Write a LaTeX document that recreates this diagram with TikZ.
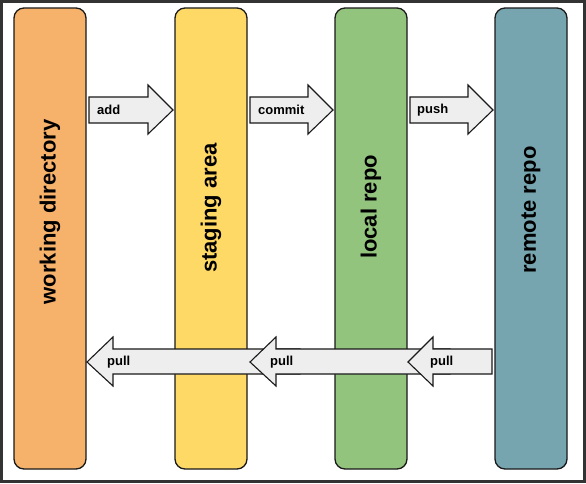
\documentclass[tikz,border=0pt]{standalone}
\usepackage{fontspec}
\setmainfont{Liberation Sans}
\begin{document}
\begin{tikzpicture}[x=1pt,y=-1pt,
  column/.style={draw=black!90,line width=1.3pt,rounded corners=10pt,minimum width=72pt,minimum height=461pt,inner sep=0pt},
  coltext/.style={rotate=90,font=\bfseries\fontsize{22}{26}\selectfont,text=black},
  blockarrow/.style={draw=black!90,line width=1.1pt,fill=arrowgray,line join=miter},
  arrowlabel/.style={anchor=west,font=\bfseries\fontsize{13}{15}\selectfont,inner sep=0pt}]
\definecolor{wdorange}{RGB}{246,178,107}
\definecolor{sayellow}{RGB}{255,217,102}
\definecolor{lrgreen}{RGB}{147,196,125}
\definecolor{rrblue}{RGB}{118,165,175}
\definecolor{arrowgray}{RGB}{238,238,238}
\definecolor{framegray}{RGB}{51,51,51}
\useasboundingbox (0,0) rectangle (586,483);
\fill[white] (0,0) rectangle (586,483);
\draw[framegray,line width=3pt] (1.5,1.5) rectangle (584.5,481.5);
% columns
\node[column,fill=wdorange] (wd) at (50,238.5) {};
\node[column,fill=sayellow] (sa) at (211,238.5) {};
\node[column,fill=lrgreen] (lr) at (371,238.5) {};
\node[column,fill=rrblue] (rr) at (531,238.5) {};
\node[coltext] (wdt) at (50,212) {working directory};
\node[coltext] (sat) at (211,208) {staging area};
\node[coltext] (lrt) at (371,207) {local repo};
\node[coltext] (rrt) at (531,210) {remote repo};
% top arrows
\draw[blockarrow] (89,97) -- (148,97) -- (148,85) -- (173,110) -- (148,134) -- (148,123) -- (89,123) -- cycle;
\node[arrowlabel] (add) at (97,110) {add};
\draw[blockarrow] (250,97) -- (308,97) -- (308,85) -- (333,110) -- (308,134) -- (308,123) -- (250,123) -- cycle;
\node[arrowlabel] (commit) at (258,110) {commit};
\draw[blockarrow] (410,97) -- (468,97) -- (468,85) -- (493,110) -- (468,134) -- (468,123) -- (410,123) -- cycle;
\node[arrowlabel] (push) at (417,110) {push};
% bottom arrows
\draw[blockarrow] (300,349) -- (113,349) -- (113,337) -- (87,362) -- (113,386) -- (113,374) -- (300,374) -- cycle;
\node[arrowlabel] (pull1) at (107,362) {pull};
\draw[blockarrow] (450,349) -- (276,349) -- (276,337) -- (250,362) -- (276,386) -- (276,374) -- (450,374) -- cycle;
\node[arrowlabel] (pull2) at (270,362) {pull};
\draw[blockarrow] (492,349) -- (433,349) -- (433,337) -- (408,362) -- (433,386) -- (433,374) -- (492,374) -- cycle;
\node[arrowlabel] (pull3) at (430,362) {pull};
\end{tikzpicture}
\end{document}
